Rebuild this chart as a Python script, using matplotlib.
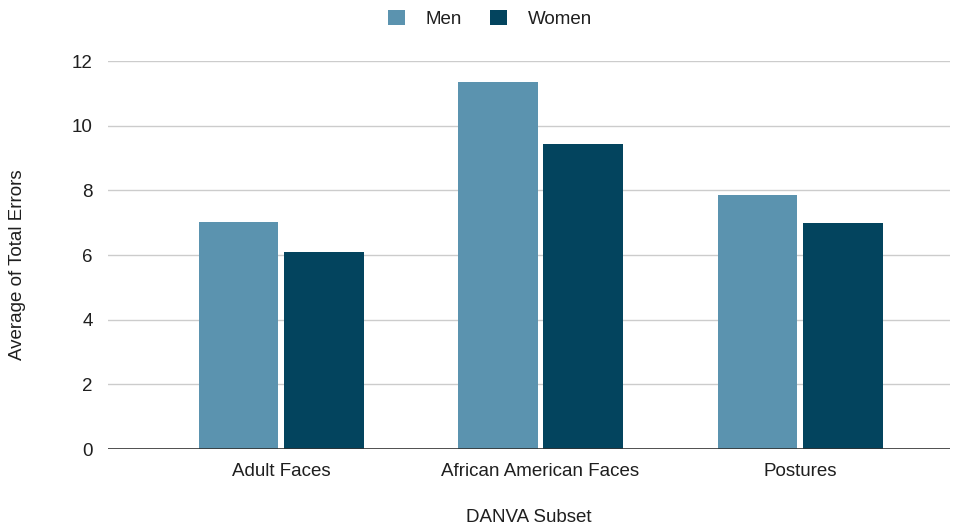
import numpy as np
import matplotlib.pyplot as plt

plt.rcParams['font.family'] = ['Liberation Sans', 'DejaVu Sans']

categories = ["Adult Faces", "African American Faces", "Postures"]
men = [7.02, 11.36, 7.86]
women = [6.08, 9.43, 6.98]
yticks = [0, 2, 4, 6, 8, 10, 12]

men_color = "#5b93af"
women_color = "#03445e"
text_color = "#1f1f1f"
fs = 13.5

fig = plt.figure(figsize=(9.64, 5.29), dpi=100)
ax = fig.add_axes([108 / 964, 80 / 529, 842 / 964, 388 / 529])

x = np.arange(len(categories))
w = 0.308
gap = 0.01

ax.bar(x - w / 2 - gap, men, w, color=men_color, label="Men", zorder=3)
ax.bar(x + w / 2 + gap, women, w, color=women_color, label="Women", zorder=3)

ax.set_xlim(-0.667, 2.578)
ax.set_ylim(0, 12)
ax.set_yticks(yticks)
ax.set_xticks(x)
ax.set_xticklabels(categories)
ax.grid(axis="y", color="#cccccc", linewidth=1, zorder=0)
ax.axhline(0, color="#333333", linewidth=1.2, zorder=4)
for s in ax.spines.values():
    s.set_visible(False)
ax.tick_params(axis="both", length=0, labelsize=fs, colors=text_color)
ax.tick_params(axis="x", pad=10)
ax.tick_params(axis="y", pad=11)

fig.text(529 / 964, 1 - 518 / 529, "DANVA Subset", fontsize=fs, color=text_color,
         ha="center", va="center")
fig.text(18 / 964, 1 - 265 / 529, "Average of Total Errors", fontsize=fs,
         color=text_color, ha="center", va="center", rotation=90)

fig.legend(loc="center", bbox_to_anchor=(490 / 964, 1 - 19 / 529), ncol=2,
           frameon=False, fontsize=fs, handlelength=0.9, handleheight=0.9,
           columnspacing=1.5, handletextpad=1.1, labelcolor=text_color)

fig.savefig("out.png", dpi=100)
